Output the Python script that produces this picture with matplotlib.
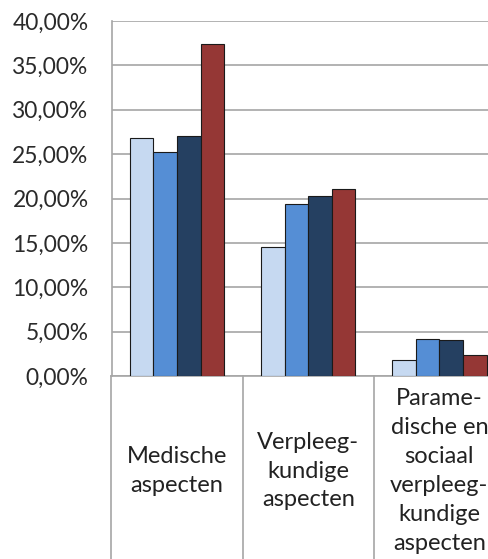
import matplotlib
matplotlib.use("Agg")
import matplotlib.pyplot as plt
import numpy as np

categories = ["Medische\naspecten", "Verpleeg-\nkundige\naspecten",
              "Parame-\ndische en\nsociaal\nverpleeg-\nkundige\naspecten"]
series_1 = [26.85, 14.55, 1.77]
series_2 = [25.25, 19.35, 4.2]
series_3 = [27.0, 20.3, 4.05]
series_4 = [37.45, 21.05, 2.35]
series = [series_1, series_2, series_3, series_4]
colors = ["#c6d9f1", "#558ed5", "#254061", "#953735"]
yticks = [0, 5, 10, 15, 20, 25, 30, 35, 40]
ytick_labels = ["0,00%", "5,00%", "10,00%", "15,00%", "20,00%",
                "25,00%", "30,00%", "35,00%", "40,00%"]

plt.rcParams['font.family'] = ['Lato', 'DejaVu Sans']

W, H = 488, 559
fig = plt.figure(figsize=(W / 100, H / 100), dpi=100)
left_px, right_px, top_px, bot_px = 111.5, 505, 21, 376
ax = fig.add_axes([left_px / W, 1 - bot_px / H, (right_px - left_px) / W,
                   (bot_px - top_px) / H])

n = len(series)
bw = 0.72 / n
x = np.arange(len(categories))
for i, (vals, c) in enumerate(zip(series, colors)):
    ax.bar(x + (i - (n - 1) / 2) * bw, vals, width=bw, color=c,
           edgecolor="#1a1a1a", linewidth=0.8, zorder=3)

ax.set_xlim(-0.5, len(categories) - 0.5)
ax.set_ylim(0, 40)
ax.set_yticks(yticks)
ax.set_yticklabels(ytick_labels, fontsize=16.4, color="#2a2a2a")
ax.tick_params(axis='y', length=0, pad=16.5)
ax.set_xticks([])
ax.yaxis.grid(True, color="#a6a6a6", linewidth=1.2, zorder=0)
for s in ["top", "right"]:
    ax.spines[s].set_visible(False)
ax.spines["left"].set_color("#a6a6a6")
ax.spines["left"].set_linewidth(1.2)
ax.spines["bottom"].set_color("#a6a6a6")
ax.spines["bottom"].set_linewidth(1.2)

# category separators extending below the axis
for b in np.arange(len(categories)):
    ax.plot([b - 0.5, b - 0.5], [0, -25], color="#a6a6a6", linewidth=1.2,
            clip_on=False, zorder=1)

label_y_px = 471
for i, lab in enumerate(categories):
    xc = ax.transData.transform((i, 0))[0]
    fig.text(xc / W, 1 - label_y_px / H, lab, ha="center", va="center",
             fontsize=17, color="#222222", linespacing=1.47)

fig.savefig("out.png", dpi=100)
